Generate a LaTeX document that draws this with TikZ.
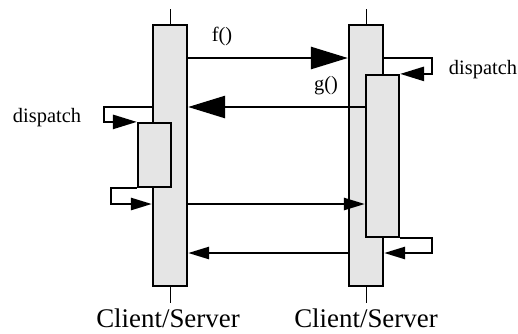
\documentclass[tikz,border=0pt]{standalone}
\usepackage{fontspec}
\setmainfont{Liberation Serif}
\usetikzlibrary{arrows.meta}
\tikzset{
  actbox/.style={draw, line width=2.2bp, fill=black!10, inner sep=0pt},
  msg/.style={line width=2.6bp, -{Triangle[length=21bp,width=12bp]}},
  bigmsg/.style={line width=2.6bp, -{Triangle[length=37bp,width=22bp]}},
  loopmsg/.style={line width=2.6bp, -{Triangle[length=24bp,width=14bp]}},
  lbl/.style={font=\fontsize{20.5}{22}\selectfont},
  objlbl/.style={font=\fontsize{27}{29}\selectfont, inner sep=0pt, anchor=base}
}
\begin{document}
\begin{tikzpicture}[x=1bp,y=-1bp]
\useasboundingbox (0,0) rectangle (518,333);
% message rows
\coordinate (f) at (0,58);
\coordinate (g) at (0,107);
\coordinate (h) at (0,204);
\coordinate (k) at (0,253);
% activation boxes
\node[actbox, minimum width=34bp, minimum height=261bp] (cl) at (170,155.5) {};
\node[actbox, minimum width=34bp, minimum height=261bp] (sv) at (366,155.5) {};
\node[actbox, minimum width=33bp, minimum height=64bp] (cl2) at (154.5,155) {};
\node[actbox, minimum width=33bp, minimum height=162bp] (sv2) at (382.5,156) {};
% lifelines
\draw[line width=1bp] (cl.north) -- ++(0,-15) (cl.south) -- ++(0,16);
\draw[line width=1bp] (sv.north) -- ++(0,-15) (sv.south) -- ++(0,16);
% calls
\draw[bigmsg] (cl.east |- f) -- (sv.west |- f);
\draw[bigmsg] (sv2.west |- g) -- (cl.east |- g);
\draw[msg] (cl.east |- h) -- (sv2.west |- h);
\draw[msg] (sv.west |- k) -- (cl.east |- k);
% self calls
\draw[loopmsg] (cl.west |- g) -- ++(-48,0) |- (cl2.north west);
\draw[msg] (cl2.south west) -- ++(-26,0) |- (cl.west |- h);
\draw[loopmsg] (sv.east |- f) -- ++(48,0) |- (sv2.north east);
\draw[msg] (sv2.south east) -- ++(32,0) |- (sv.east |- k);
% labels
\node[lbl] (fl) at (222,36) {f()};
\node[lbl] (gl) at (326,86) {g()};
\node[lbl] (dl) at (47,118) {dispatch};
\node[lbl] (dr) at (483,70) {dispatch};
\node[objlbl] (cn) at (168,327) {Client/Server};
\node[objlbl] (sn) at (366,327) {Client/Server};
\end{tikzpicture}
\end{document}
